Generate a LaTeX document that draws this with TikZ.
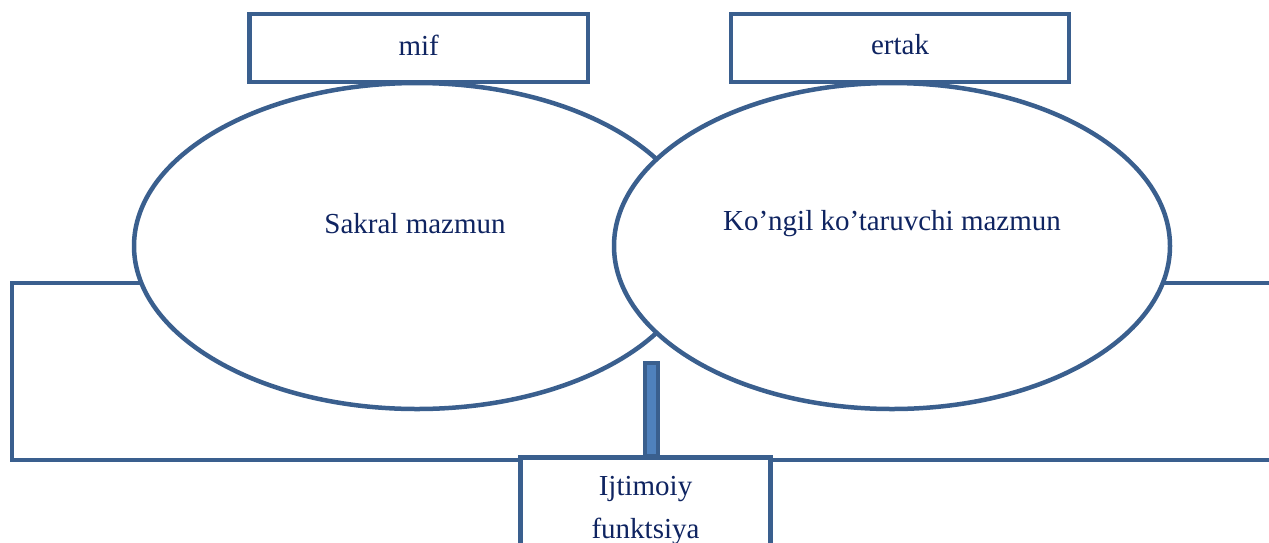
\documentclass[tikz,border=0pt]{standalone}
\usepackage{fontspec}
\setmainfont{Liberation Serif}
\usetikzlibrary{shapes.geometric}
\definecolor{edge}{HTML}{3A5F8E}
\definecolor{barfill}{HTML}{4F81BD}
\definecolor{ink}{HTML}{0F2461}
\tikzset{
  shapeline/.style={draw=edge, line width=4.5pt},
  labelbox/.style={shapeline, fill=white},
  oval/.style={shapeline, fill=white, ellipse, inner sep=0pt},
  lbl/.style={text=ink, font=\fontsize{29}{43}\selectfont, align=center, inner sep=0pt},
}
\begin{document}
\begin{tikzpicture}[x=1pt,y=-1pt]
\useasboundingbox (0,0) rectangle (1269,542);
\clip (0,0) rectangle (1269,542);
% big frame
\draw[shapeline] (12,283) rectangle (1300,460);
% ellipses
\node[oval, minimum width=566pt, minimum height=326pt] (sakral) at (417,246) {};
\node[oval, minimum width=556pt, minimum height=326pt] (kongil) at (892,246) {};
\node[lbl] at (415,224) {Sakral mazmun};
\node[lbl] at (892,224) {Ko’ngil ko’taruvchi mazmun};
% top boxes
\draw[labelbox] (249.5,14) rectangle (588,82);
\node[lbl] (mif) at (418.75,45) {mif};
\draw[labelbox] (731,14) rectangle (1069,82);
\node[lbl] (ertak) at (900,45) {ertak};
% bottom box
\draw[labelbox] (520.5,457.5) rectangle (770.5,560);
\node[lbl, anchor=north] (ijt) at (645.5,476) {Ijtimoiy\\funktsiya};
% bar
\draw[shapeline, fill=barfill, line width=4pt] (644.5,363) rectangle (657.5,456);
\end{tikzpicture}
\end{document}
